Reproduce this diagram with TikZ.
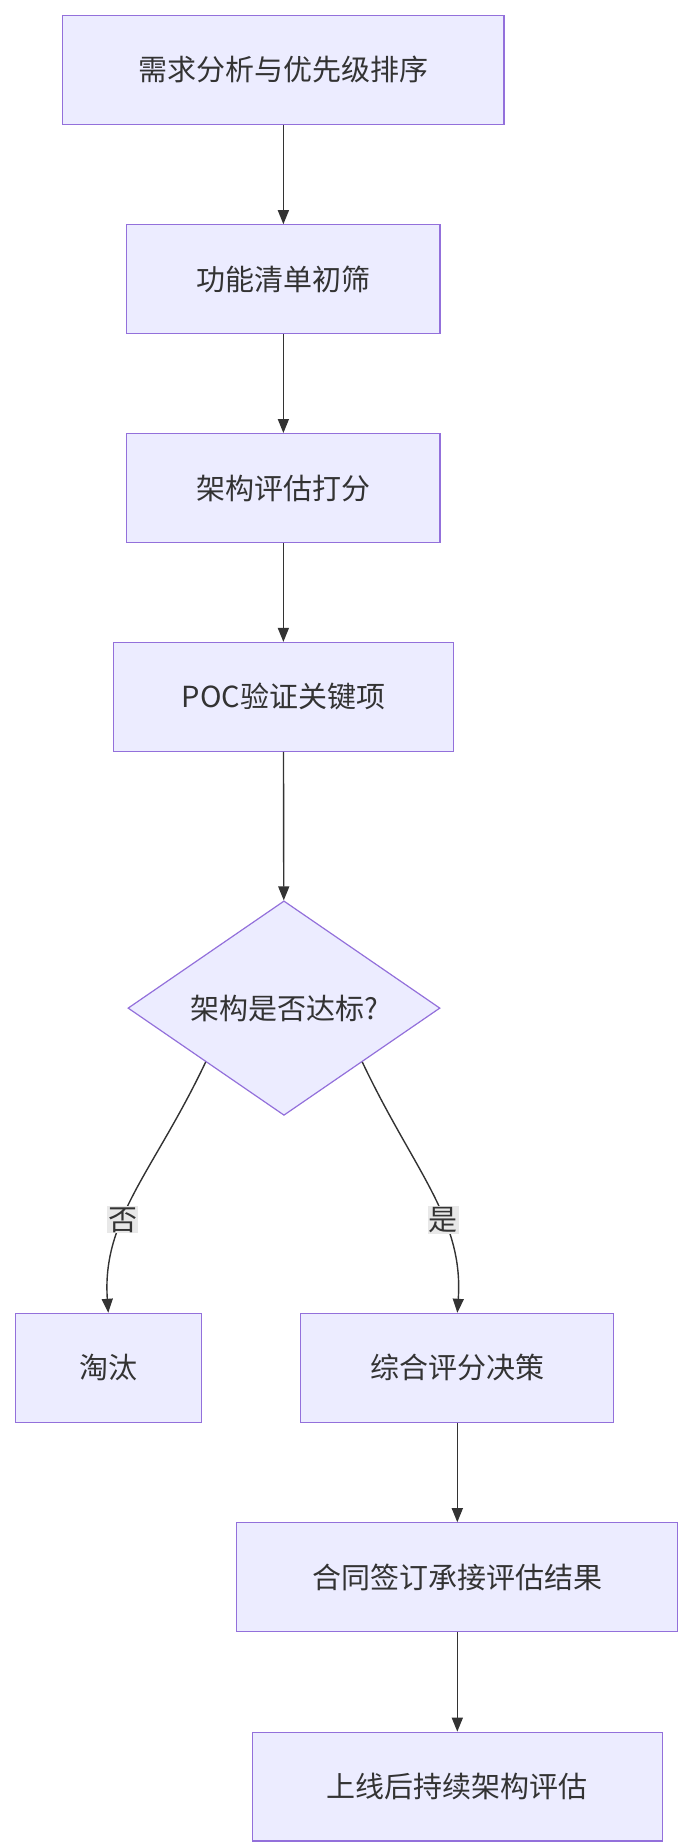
\documentclass[tikz,border=0pt]{standalone}
\usepackage{fontspec}
\setmainfont{Noto Sans CJK SC}
\usetikzlibrary{arrows.meta,positioning,shapes.geometric}
\definecolor{boxfill}{HTML}{ECECFF}
\definecolor{boxline}{HTML}{9370DB}
\definecolor{arrowline}{HTML}{333333}
\definecolor{lblfill}{HTML}{E8E8E8}
\tikzset{
  stage/.style={draw=boxline, fill=boxfill, line width=1.2pt, minimum height=108.8pt,
    font=\fontsize{29}{34}\selectfont, text=arrowline, inner sep=0pt},
  flow/.style={-{Triangle[length=14pt,width=11pt]}, draw=arrowline, line width=1.4pt},
  tag/.style={fill=lblfill, font=\fontsize{29}{34}\selectfont, text=arrowline, inner sep=1pt}
}
\begin{document}
\begin{tikzpicture}[x=1.183pt,y=-1.183pt]
    \useasboundingbox (0,0) rectangle (585,1561);
    % Main column
    \node[stage, minimum width=441pt] (need) at (239.5,59) {需求分析与优先级排序};
    \node[stage, minimum width=313pt] (list) at (239.5,236) {功能清单初筛};
    \node[stage, minimum width=313pt] (score) at (239.5,412.5) {架构评估打分};
    \node[stage, minimum width=340pt] (poc) at (239.5,589) {POC验证关键项};
    \node[draw=boxline, fill=boxfill, line width=1.2pt, diamond, aspect=1, minimum width=312pt,
      inner sep=0pt, font=\fontsize{29}{34}\selectfont, text=arrowline] (check) at (240,852) {架构是否达标?};

    % Branches
    \node[stage, minimum width=186pt] (drop) at (91.5,1156) {淘汰};
    \node[stage, minimum width=313pt] (decide) at (386.5,1156) {综合评分决策};
    \node[stage, minimum width=441pt] (sign) at (386.5,1333) {合同签订承接评估结果};
    \node[stage, minimum width=410pt] (online) at (386.5,1510) {上线后持续架构评估};

    % Connectors
    \draw[flow] (need) -- (list);
    \draw[flow] (list) -- (score);
    \draw[flow] (score) -- (poc);
    \draw[flow] (poc) -- (check);
    \draw[flow] (check.south west) .. controls (130,990) and (86,1030) .. node[tag, pos=0.62] {否} (drop.north);
    \draw[flow] (check.south east) .. controls (350,990) and (392,1030) .. node[tag, pos=0.62] {是} (decide.north);
    \draw[flow] (decide) -- (sign);
    \draw[flow] (sign) -- (online);
\end{tikzpicture}
\end{document}
